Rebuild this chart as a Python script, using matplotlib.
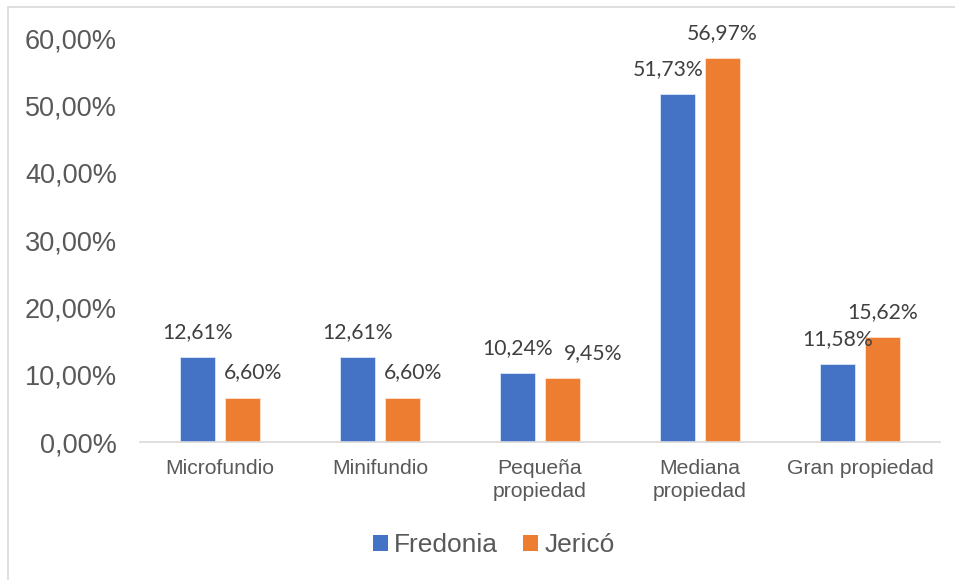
import matplotlib
matplotlib.use("Agg")
import matplotlib.pyplot as plt
import numpy as np
from matplotlib.patches import Rectangle, Patch

categories = ["Microfundio", "Minifundio", "Pequeña\npropiedad", "Mediana\npropiedad", "Gran propiedad"]
fredonia = [12.61, 12.61, 10.24, 51.73, 11.58]
jerico = [6.60, 6.60, 9.45, 56.97, 15.62]
series_names = ["Fredonia", "Jericó"]
yticks = [0, 10, 20, 30, 40, 50, 60]

# horizontal nudges of data labels (points), as placed in the reference
fredonia_label_dx = [0, 0, 0, -7, 0]
jerico_label_dx = [7.5, 7.5, 22, 0, 0]

blue = "#4472C4"
orange = "#ED7D31"

fig = plt.figure(figsize=(9.55, 5.8), dpi=100)
fig.patch.set_facecolor("white")

# outer chart border (left and top visible)
fig.add_artist(Rectangle((8/955, -0.05), 1.1, (580-7)/580 + 0.05, transform=fig.transFigure,
                         fill=False, edgecolor="#d9d9d9", linewidth=1.2))

ax = fig.add_axes([140/955, 1-442/580, 800/955, (442-38)/580])
x = np.arange(len(categories))
off = 0.14
w = 0.22
b1 = ax.bar(x - off, fredonia, w, color=blue, edgecolor="#dce6f5", linewidth=0.6, zorder=2)
b2 = ax.bar(x + off, jerico, w, color=orange, edgecolor="#fbe3d3", linewidth=0.6, zorder=2)

lab_font = dict(family=["Lato", "DejaVu Sans"], size=15.2, color="#404040")
for rects, vals, dxs in ((b1, fredonia, fredonia_label_dx), (b2, jerico, jerico_label_dx)):
    for r, v, dx in zip(rects, vals, dxs):
        ax.annotate(f"{v:.2f}%".replace(".", ","), (r.get_x() + r.get_width()/2, v),
                    xytext=(dx, 18), textcoords="offset points", ha="center", va="center",
                    **lab_font)

ax.set_ylim(0, 60)
ax.set_xlim(-0.5, len(categories) - 0.5)
ax.set_yticks(yticks)
ax.set_yticklabels([f"{t:.2f}%".replace(".", ",") for t in yticks],
                   family="Liberation Sans", fontsize=19.5, color="#595959")
ax.set_xticks(x)
ax.set_xticklabels(categories, family="Liberation Sans", fontsize=15.2, color="#595959",
                   linespacing=1.3)
ax.tick_params(axis="y", length=0, pad=16.5)
ax.tick_params(axis="x", length=0, pad=12)
for s in ["top", "right", "left"]:
    ax.spines[s].set_visible(False)
ax.spines["bottom"].set_color("#d9d9d9")
ax.spines["bottom"].set_linewidth(1.2)
ax.set_facecolor("none")

handles = [Patch(facecolor=blue), Patch(facecolor=orange)]
fig.legend(handles, series_names, loc="center", bbox_to_anchor=(494/955, 1-545/580),
           ncol=2, frameon=False, prop=dict(family="Liberation Sans", size=19),
           handlelength=0.55, handleheight=0.55, handletextpad=0.25, columnspacing=0.95,
           labelcolor="#595959")

fig.savefig("out.png", dpi=100)
